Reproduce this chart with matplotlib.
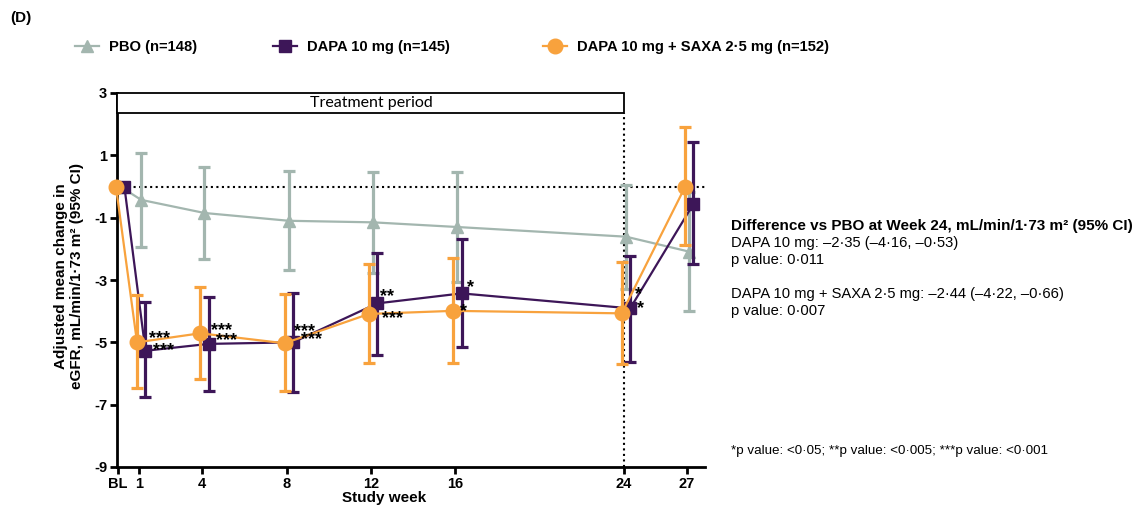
import numpy as np
import matplotlib
matplotlib.use('Agg')
import matplotlib.pyplot as plt
from matplotlib.lines import Line2D
from matplotlib.patches import Rectangle

# study weeks (BL = 0)
weeks = [0, 1, 4, 8, 12, 16, 24, 27]
week_labels = ['BL', '1', '4', '8', '12', '16', '24', '27']

# adjusted mean change in eGFR with 95% CI
pbo_mean = [0, -0.43, -0.85, -1.10, -1.15, -1.30, -1.61, -2.09]
pbo_lo = [np.nan, -1.95, -2.34, -2.69, -2.76, -3.06, -3.28, -4.00]
pbo_hi = [np.nan, 1.09, 0.64, 0.49, 0.46, 0.46, 0.06, -0.18]

dapa_mean = [0, -5.27, -5.05, -5.00, -3.75, -3.43, -3.91, -0.56]
dapa_lo = [np.nan, -6.76, -6.55, -6.60, -5.41, -5.16, -5.62, -2.50]
dapa_hi = [np.nan, -3.72, -3.53, -3.43, -2.14, -1.69, -2.23, 1.43]

combo_mean = [0, -5.00, -4.71, -5.03, -4.09, -3.99, -4.07, -0.02]
combo_lo = [np.nan, -6.47, -6.17, -6.55, -5.67, -5.67, -5.71, -1.88]
combo_hi = [np.nan, -3.49, -3.21, -3.46, -2.49, -2.30, -2.41, 1.90]

names = ['PBO (n=148)', 'DAPA 10 mg (n=145)', 'DAPA 10 mg + SAXA 2·5 mg (n=152)']

# significance vs PBO at weeks 1..24
dapa_sig = ['***', '***', '***', '**', '*', '*']
combo_sig = ['***', '***', '***', '***', '*', '*']

c_pbo = '#a3b6af'
c_dapa = '#3d1658'
c_combo = '#f8a23d'

plt.rcParams['font.family'] = ['Liberation Sans', 'DejaVu Sans']
plt.rcParams['axes.unicode_minus'] = False

fig = plt.figure(figsize=(11.42, 5.16), dpi=100)
ax = fig.add_axes([117/1142, 1-467/516, (705-117)/1142, (467-93)/516])

w = np.array(weeks, dtype=float)

def draw(off, mean, lo, hi, color, marker, ms, z):
    mean = np.array(mean); lo = np.array(lo); hi = np.array(hi)
    ax.errorbar(w + off, mean, yerr=[mean - lo, hi - mean], color=color, marker=marker,
                ms=ms, lw=1.6, elinewidth=2.3, capsize=4.5, capthick=2.3, zorder=z, clip_on=False)

draw(0.1, pbo_mean, pbo_lo, pbo_hi, c_pbo, '^', 9, 4)
draw(0.3, dapa_mean, dapa_lo, dapa_hi, c_dapa, 's', 9, 5)
draw(-0.1, combo_mean, combo_lo, combo_hi, c_combo, 'o', 10.5, 6)

ax.set_xlim(-0.05, 27.85)
ax.set_ylim(-9, 3)
ax.set_xticks(weeks)
ax.set_xticklabels(week_labels)
ax.set_yticks([3, 1, -1, -3, -5, -7, -9])
for s in ['top', 'right']:
    ax.spines[s].set_visible(False)
for s in ['left', 'bottom']:
    ax.spines[s].set_linewidth(2)
ax.tick_params(direction='out', length=5, width=2, labelsize=10.5, pad=2)
for lab in ax.get_xticklabels() + ax.get_yticklabels():
    lab.set_fontweight('bold')

# reference lines
ax.axhline(0, color='k', ls=':', lw=1.5, zorder=1)
ax.plot([24, 24], [-9, 2.35], ':', color='k', lw=1.5, zorder=1)

# treatment period box
ax.add_patch(Rectangle((-0.05, 2.35), 24.05, 0.65, facecolor='white', edgecolor='k',
                       lw=1.3, zorder=3, clip_on=False))
ax.text(12, 2.67, 'Treatment period', ha='center', va='center', fontsize=11.5,
        family=['Lato', 'DejaVu Sans'], zorder=4)

# significance stars (offsets relative to each point)
dapa_off = [(0.88, 0.2), (0.83, 0.3), (0.53, 0.55), (0.47, 0.41), (0.4, 0.38), (0.5, 0.18)]
combo_off = [(1.05, 0.3), (0.99, 0.28), (1.26, 0.31), (1.1, 0.03), (0.5, 0.16), (0.8, 0.78)]
for i, k in enumerate(range(1, 7)):
    for txt, mean, base, (dx, dy) in [(dapa_sig[i], dapa_mean, 0.3, dapa_off[i]),
                                      (combo_sig[i], combo_mean, -0.1, combo_off[i])]:
        ax.annotate(txt, xy=(weeks[k] + base + dx, mean[k] + dy), xytext=(0, -7.5),
                    textcoords='offset points', ha='center', va='baseline',
                    fontsize=13, fontweight='bold', zorder=7)

# legend entries
handles = [Line2D([], [], color=c_pbo, marker='^', ms=9, lw=1.6),
           Line2D([], [], color=c_dapa, marker='s', ms=9, lw=1.6),
           Line2D([], [], color=c_combo, marker='o', ms=10.5, lw=1.6)]
for h, n, x0 in zip(handles, names, [75, 273, 543]):
    fig.legend(handles=[h], labels=[n], loc='center left', bbox_to_anchor=(x0/1142, 1-47/516),
               frameon=False, borderpad=0, borderaxespad=0, handlelength=1.6, handletextpad=0.7,
               prop={'weight': 'bold', 'size': 10.6})

fig.text(10/1142, 1-18/516, '(D)', fontsize=11, fontweight='bold', va='center')
fig.text(69/1142, 1-276/516, 'Adjusted mean change in\neGFR, mL/min/1·73 m² (95% CI)',
         rotation=90, ha='center', va='center', multialignment='center',
         fontsize=11, fontweight='bold', linespacing=1.25)
fig.text(384/1142, 1-498/516, 'Study week', ha='center', va='center', fontsize=11, fontweight='bold')

fig.text(731/1142, 1-226/516, 'Difference vs PBO at Week 24, mL/min/1·73 m² (95% CI)',
         fontsize=11, fontweight='bold', va='center')
fig.text(731/1142, 1-243/516, 'DAPA 10 mg: –2·35 (–4·16, –0·53)', fontsize=10.6, va='center')
fig.text(731/1142, 1-260/516, 'p value: 0·011', fontsize=10.6, va='center')
fig.text(731/1142, 1-294/516, 'DAPA 10 mg + SAXA 2·5 mg: –2·44 (–4·22, –0·66)', fontsize=10.6, va='center')
fig.text(731/1142, 1-311/516, 'p value: 0·007', fontsize=10.6, va='center')
fig.text(731/1142, 1-451/516, '*p value: <0·05; **p value: <0·005; ***p value: <0·001', fontsize=9.6, va='center')

fig.savefig('out.png', dpi=100)
